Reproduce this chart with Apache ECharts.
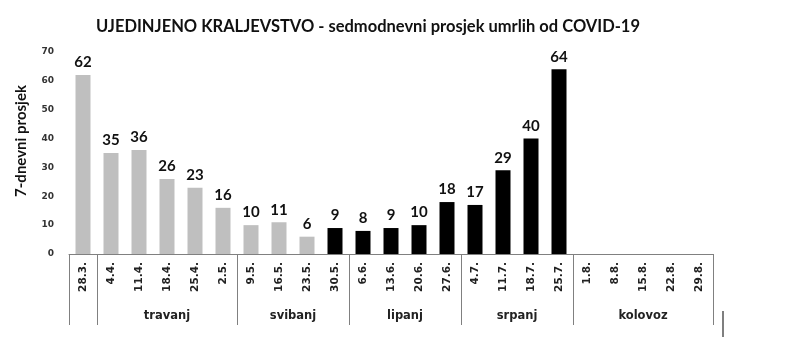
<!DOCTYPE html>
<html>
<head>
<meta charset="utf-8">
<script src="https://cdn.jsdelivr.net/npm/echarts@6/dist/echarts.min.js"></script>
<style>html,body{margin:0;padding:0;background:#fff}#c{width:800px;height:363px}</style>
</head>
<body>
<div id="c"></div>
<script>
const titleText = 'UJEDINJENO KRALJEVSTVO - sedmodnevni prosjek umrlih od COVID-19';
const yAxisName = '7-dnevni prosjek';
const weeks = ['28.3.','4.4.','11.4.','18.4.','25.4.','2.5.','9.5.','16.5.','23.5.','30.5.','6.6.','13.6.','20.6.','27.6.','4.7.','11.7.','18.7.','25.7.','1.8.','8.8.','15.8.','22.8.','29.8.'];
const deaths = [62,35,36,26,23,16,10,11,6,9,8,9,10,18,17,29,40,64,null,null,null,null,null];
const firstBlackIndex = 9; // from 30.5. on, bars are black
const months = ['travanj','svibanj','lipanj','srpanj','kolovoz'];
const monthStart = [1,6,10,14,18];   // first week index of each month
const monthEnd = [6,10,14,18,23];    // exclusive end index
const separators = [0,1,6,10,14,18]; // week index with a boundary line on its left

const monthCenters = {};
months.forEach((m,i)=>{ monthCenters[((monthStart[i]+monthEnd[i])/2).toFixed(1)] = m; });

const chart = echarts.init(document.getElementById('c'));
chart.setOption({
  animation:false,
  title:{text:titleText,left:363,textAlign:'center',top:13,
    textStyle:{fontFamily:'Lato',fontWeight:'bold',fontSize:16.5,color:'#111'}},
  grid:{left:69,right:87,top:52,bottom:109},
  xAxis:[{
    type:'category',data:weeks,
    axisLine:{lineStyle:{color:'#808080',width:1}},
    axisTick:{show:true,length:71,interval:(idx)=>separators.includes(idx),lineStyle:{color:'#808080'}},
    axisLabel:{rotate:90,interval:0,margin:8,fontFamily:'DejaVu Sans',fontWeight:'bold',fontSize:10.5,color:'#222'}
  },{
    type:'value',min:0,max:weeks.length,interval:0.5,position:'bottom',
    axisLine:{show:false},axisTick:{show:false},splitLine:{show:false},
    axisLabel:{margin:56,showMinLabel:true,showMaxLabel:true,
      formatter:(v)=>monthCenters[v.toFixed(1)]||'',
      fontFamily:'DejaVu Sans',fontWeight:'bold',fontSize:11.5,color:'#222'}
  }],
  yAxis:{type:'value',min:0,max:70,interval:10,
    name:yAxisName,nameLocation:'middle',nameGap:40,
    nameTextStyle:{fontFamily:'Lato',fontWeight:'bold',fontSize:15,color:'#111',padding:[0,0,0,24]},
    axisLine:{show:false},axisTick:{show:false},splitLine:{show:false},
    axisLabel:{margin:15,fontFamily:'DejaVu Sans',fontWeight:'bold',fontSize:9,color:'#333'}},
  series:[{
    type:'bar',data:deaths,barWidth:15,xAxisIndex:0,
    itemStyle:{color:(p)=>p.dataIndex<firstBlackIndex?'#bfbfbf':'#000'},
    label:{show:true,position:'top',distance:5,fontFamily:'Lato',fontWeight:'bold',fontSize:15,color:'#111'}
  }],
  graphic:[{type:'line',shape:{x1:723,y1:311,x2:723,y2:337},style:{stroke:'#555',lineWidth:1.5}}]
});
</script>
</body>
</html>
